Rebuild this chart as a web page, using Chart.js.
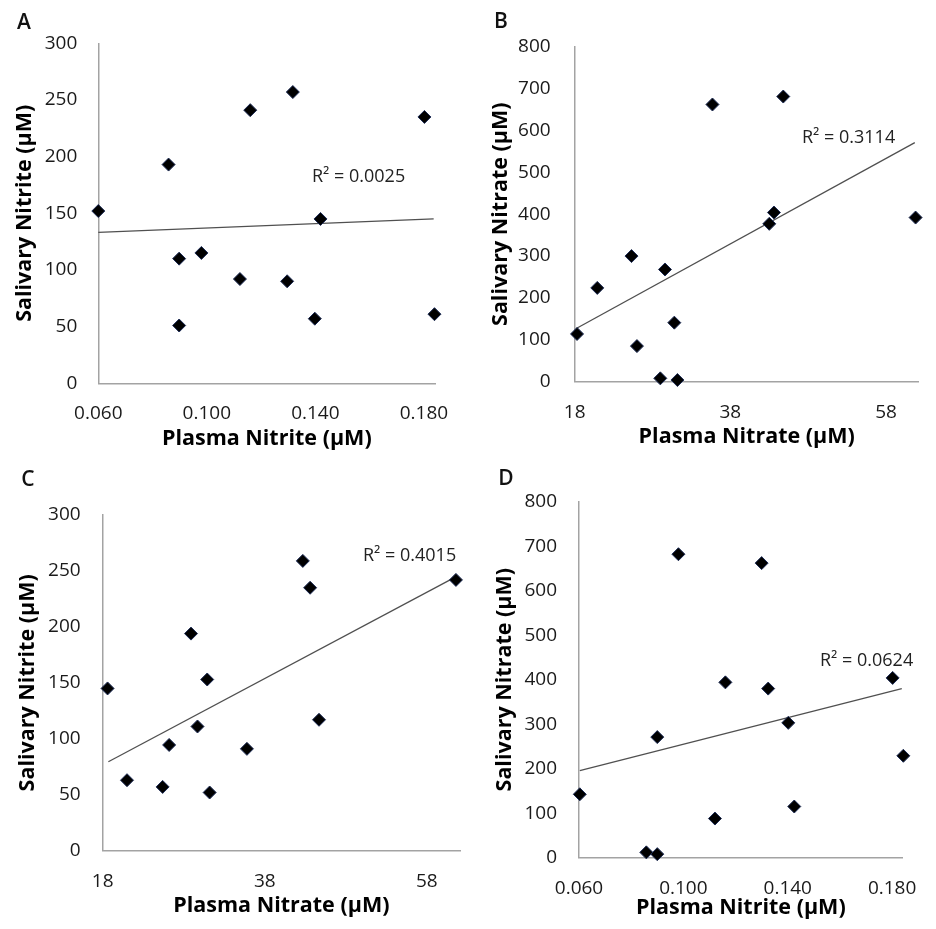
<!DOCTYPE html>
<html>
<head>
<meta charset="utf-8">
<script src="https://cdn.jsdelivr.net/npm/chart.js@4.4.1/dist/chart.umd.min.js"></script>
<style>
  html, body { margin: 0; padding: 0; background: #fff; }
  #page { position: relative; width: 936px; height: 929px; overflow: hidden; background: #fff; }
  canvas { position: absolute; }
  .lbl { position: absolute; font-family: "Open Sans", sans-serif; color: #111; white-space: nowrap; transform: translate(-50%, -50%); }
  .panel { font-size: 21px; font-weight: 600; }
  .r2 { font-size: 18px; transform: translate(0, -50%); color: #222; }
</style>
</head>
<body>
<div id="page">
  <canvas id="cA" width="468" height="460" style="left:0;top:0;width:468px;height:460px"></canvas>
  <canvas id="cB" width="468" height="460" style="left:468px;top:0;width:468px;height:460px"></canvas>
  <canvas id="cC" width="468" height="469" style="left:0;top:460px;width:468px;height:469px"></canvas>
  <canvas id="cD" width="468" height="469" style="left:468px;top:460px;width:468px;height:469px"></canvas>
  <div class="lbl panel" style="left:24px;top:21px">A</div>
  <div class="lbl panel" style="left:501px;top:20px">B</div>
  <div class="lbl panel" style="left:28px;top:478px">C</div>
  <div class="lbl panel" style="left:506px;top:477px">D</div>
  <div class="lbl r2" style="left:312px;top:175px">R² = 0.0025</div>
  <div class="lbl r2" style="left:802px;top:136px">R² = 0.3114</div>
  <div class="lbl r2" style="left:363px;top:554px">R² = 0.4015</div>
  <div class="lbl r2" style="left:820px;top:659px">R² = 0.0624</div>
</div>
<script>
// ---- Data ----
// Panel A: plasma nitrite vs salivary nitrite
const plasmaNitriteA = [0.0600, 0.0859, 0.0898, 0.0898, 0.0980, 0.1122, 0.1160, 0.1317, 0.1296, 0.1398, 0.1419, 0.1802, 0.1839];
const salivaryNitriteA = [152, 193, 110, 51, 115, 92, 241, 257, 90, 57, 145, 235, 61];
const trendXA = [0.0600, 0.1836];
const trendYA = [133.2, 145.0];

// Panel B: plasma nitrate vs salivary nitrate
const plasmaNitrateB = [18.3, 20.9, 25.3, 26.0, 29.0, 29.6, 30.8, 31.2, 35.7, 43.0, 43.6, 44.8, 61.8];
const salivaryNitrateB = [114, 224, 300, 85, 8, 268, 141, 4, 662, 377, 404, 681, 392];
const trendXB = [18.2, 61.7];
const trendYB = [127, 571];

// Panel C: plasma nitrate vs salivary nitrite
const plasmaNitrateC = [18.6, 21.0, 25.4, 26.2, 28.9, 29.7, 30.9, 31.2, 35.8, 42.7, 43.6, 44.7, 61.6];
const salivaryNitriteC = [145, 63, 57, 94.5, 194, 111, 153, 52, 91, 259, 235, 117, 242];
const trendXC = [18.7, 61.4];
const trendYC = [79.5, 244];

// Panel D: plasma nitrite vs salivary nitrate
const plasmaNitriteD = [0.0603, 0.0858, 0.0900, 0.0900, 0.0981, 0.1121, 0.1161, 0.1300, 0.1325, 0.1402, 0.1425, 0.1802, 0.1843];
const salivaryNitrateD = [142.5, 12, 8, 271, 682, 88, 394, 662, 380, 303, 115, 404, 229];
const trendXD = [0.0603, 0.1837];
const trendYD = [195.5, 380];

// Tick labels
const nitriteTicks = [0.060, 0.100, 0.140, 0.180];
const nitrateTicks = [18, 38, 58];
const salNitriteTicks = [0, 50, 100, 150, 200, 250, 300];
const salNitrateTicks = [0, 100, 200, 300, 400, 500, 600, 700, 800];

const xTitleNitrite = 'Plasma Nitrite (\u00B5M)';
const xTitleNitrate = 'Plasma Nitrate (\u00B5M)';
const yTitleNitrite = 'Salivary Nitrite (\u00B5M)';
const yTitleNitrate = 'Salivary Nitrate (\u00B5M)';

// ---- Rendering ----
function pts(xs, ys) { return xs.map((x, i) => ({x: x, y: ys[i]})); }

const TICK_FONT = {family: '"Open Sans", sans-serif', size: 19};
const TITLE_FONT = {family: '"Open Sans", sans-serif', size: 21.5, weight: 'bold'};
const AXIS_COLOR = '#a3a3a3';

function makePanel(id, p) {
  const XH = 70;
  const lineH = TITLE_FONT.size * 1.2;
  const xTitlePad = (p.B + XH) - lineH / 2 - p.xTitleY;
  const yTitlePad = (p.yTitleX - p.ox) - lineH / 2;
  new Chart(document.getElementById(id), {
    type: 'scatter',
    data: {
      datasets: [
        {
          data: pts(p.xs, p.ys),
          pointStyle: 'rectRot',
          pointRadius: 6.5,
          pointHoverRadius: 6.5,
          backgroundColor: '#000000',
          borderColor: '#1c2b55',
          borderWidth: 1,
          clip: false,
          order: 1
        },
        {
          type: 'line',
          data: pts(p.tx, p.ty),
          borderColor: '#505050',
          borderWidth: 1.3,
          pointRadius: 0,
          fill: false,
          tension: 0,
          clip: false,
          order: 2
        }
      ]
    },
    options: {
      responsive: false,
      animation: false,
      devicePixelRatio: 1,
      plugins: { legend: {display: false}, tooltip: {enabled: false} },
      layout: { padding: { left: 0, top: p.T - p.oy, right: p.ox + p.w - p.R, bottom: p.oy + p.h - p.B - XH } },
      scales: {
        x: {
          type: 'linear',
          min: p.xmin, max: p.xmax,
          grid: {display: false, drawTicks: false},
          border: {display: true, color: AXIS_COLOR, width: 1.5},
          afterBuildTicks: s => { s.ticks = p.xTicks.map(v => ({value: v})); },
          afterFit: s => { s.height = XH; },
          ticks: { font: TICK_FONT, color: '#1a1a1a', padding: 19, maxRotation: 0, autoSkip: false, callback: p.xfmt },
          title: { display: true, text: p.xTitle, font: TITLE_FONT, color: '#000', padding: {top: 0, bottom: xTitlePad} }
        },
        y: {
          type: 'linear',
          min: 0, max: p.ymax,
          grid: {display: false, drawTicks: false},
          border: {display: true, color: AXIS_COLOR, width: 1.5},
          afterBuildTicks: s => { s.ticks = p.yTicks.map(v => ({value: v})); },
          afterFit: s => { s.width = p.L - p.ox; },
          ticks: { font: TICK_FONT, color: '#1a1a1a', padding: p.yPad, autoSkip: false, callback: v => String(v) },
          title: { display: true, text: p.yTitle, font: TITLE_FONT, color: '#000', padding: {top: yTitlePad, bottom: 0} }
        }
      }
    }
  });
}

const fmtNitrite = v => Number(v).toFixed(3);
const fmtNitrate = v => String(v);

makePanel('cA', {ox: 0, oy: 0, w: 468, h: 460, L: 98.3, T: 43.3, R: 441.7, B: 383.3,
  xs: plasmaNitriteA, ys: salivaryNitriteA, tx: trendXA, ty: trendYA,
  xmin: 0.06, xmax: 0.1842, ymax: 300, xTicks: nitriteTicks, yTicks: salNitriteTicks, xfmt: fmtNitrite,
  xTitle: xTitleNitrite, yTitle: yTitleNitrite, xTitleY: 438.5, yTitleX: 25, yPad: 21});
makePanel('cB', {ox: 468, oy: 0, w: 468, h: 460, L: 574.7, T: 46.7, R: 918.7, B: 381.7,
  xs: plasmaNitrateB, ys: salivaryNitrateB, tx: trendXB, ty: trendYB,
  xmin: 18, xmax: 62.2, ymax: 800, xTicks: nitrateTicks, yTicks: salNitrateTicks, xfmt: fmtNitrate,
  xTitle: xTitleNitrate, yTitle: yTitleNitrate, xTitleY: 437, yTitleX: 501, yPad: 24});
makePanel('cC', {ox: 0, oy: 460, w: 468, h: 469, L: 102.7, T: 515, R: 460, B: 850.7,
  xs: plasmaNitrateC, ys: salivaryNitriteC, tx: trendXC, ty: trendYC,
  xmin: 18, xmax: 62.1, ymax: 300, xTicks: nitrateTicks, yTicks: salNitriteTicks, xfmt: fmtNitrate,
  xTitle: xTitleNitrate, yTitle: yTitleNitrite, xTitleY: 906, yTitleX: 28, yPad: 22});
makePanel('cD', {ox: 468, oy: 460, w: 468, h: 469, L: 579, T: 501.7, R: 915.7, B: 857.7,
  xs: plasmaNitriteD, ys: salivaryNitrateD, tx: trendXD, ty: trendYD,
  xmin: 0.06, xmax: 0.184, ymax: 800, xTicks: nitriteTicks, yTicks: salNitrateTicks, xfmt: fmtNitrite,
  xTitle: xTitleNitrite, yTitle: yTitleNitrate, xTitleY: 908, yTitleX: 505, yPad: 22});
</script>
</body>
</html>
